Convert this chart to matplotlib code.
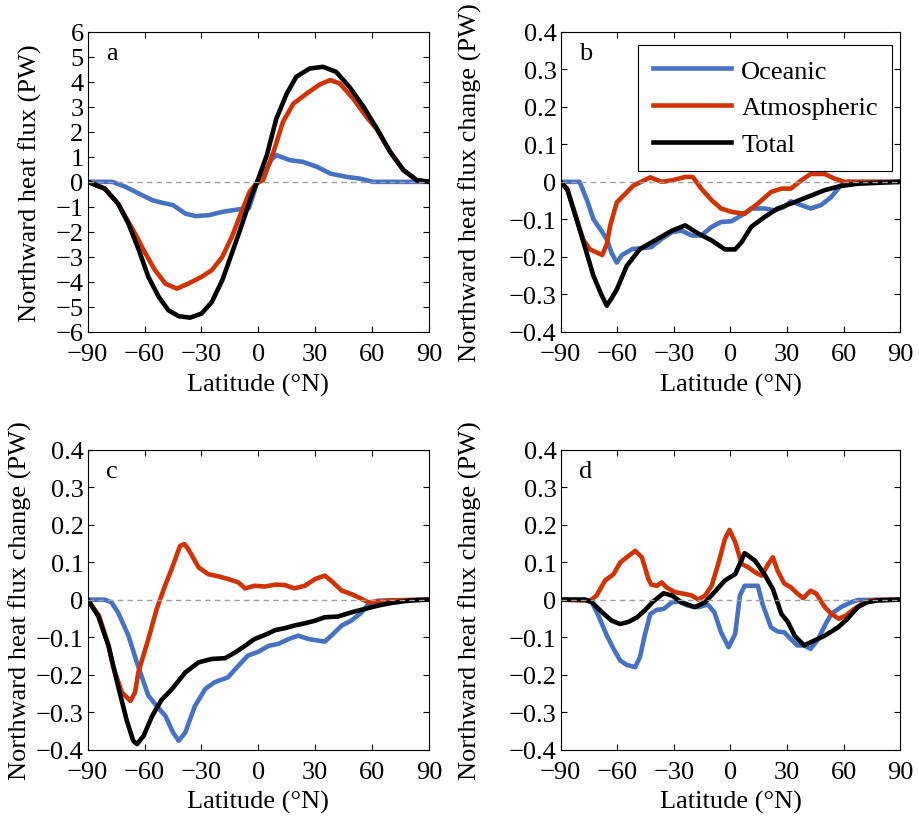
"""Meridional heat transport (panel a) and its changes (panels b-d), MATLAB-style 2x2 figure."""
import matplotlib
matplotlib.use("Agg")
import matplotlib.pyplot as plt

plt.rcParams.update({
    "font.family": "serif",
    "font.serif": ["Liberation Serif", "DejaVu Serif"],
    "font.size": 19,
    "axes.linewidth": 0.8,
    "xtick.direction": "in", "ytick.direction": "in",
    "xtick.top": True, "ytick.right": True,
    "xtick.major.size": 4, "ytick.major.size": 4,
    "xtick.major.width": 0.8, "ytick.major.width": 0.8,
})

C_OCN = "#4672c4"
C_ATM = "#d13300"
C_TOT = "#000000"

# ── panel a: mean transport (PW) ──────────────────────────────────────────────
a_tot_lat = [-90, -81, -74, -68.5, -63, -58, -52.5, -47.5, -42, -36, -30, -24.5, -19, -14, -8.5,
             -3.5, 0, 4.5, 9.5, 15, 20, 27, 34, 41, 48, 55.5, 62.5, 69.5, 76.5, 83.5, 90]
a_tot = [0, -0.27, -0.87, -1.67, -2.73, -3.8, -4.6, -5.13, -5.37, -5.43, -5.27, -4.8, -3.93, -2.87,
         -1.67, -0.53, 0.13, 1.07, 2.53, 3.53, 4.2, 4.53, 4.6, 4.4, 3.8, 3.0, 2.13, 1.2, 0.47,
         0.07, 0]
a_atm_lat = [-90, -81, -74, -70, -65, -60, -54.5, -49, -43, -37, -30, -24.5, -19, -14, -8.5,
             -4.5, -1, 2.5, 8, 13, 18.5, 25.5, 32.5, 38, 43, 50, 57, 62.5, 69.5, 76.5, 83.5, 90]
a_atm = [0, -0.27, -0.87, -1.4, -2.07, -2.8, -3.53, -4.07, -4.27, -4.07, -3.8, -3.53, -3.0, -2.2,
         -1.13, -0.38, -0.06, 0.07, 1.2, 2.4, 3.13, 3.53, 3.9, 4.07, 3.93, 3.33, 2.6, 2.1, 1.2,
         0.47, 0.07, 0]
a_ocn_lat = [-90, -77, -70, -63, -56, -51, -45, -38.5, -33, -26, -19, -10.5, -5, -3, -1, 2, 4.5,
             7, 9.5, 16.5, 23.5, 31, 38, 46.5, 53.5, 60.5, 90]
a_ocn = [0, 0, -0.2, -0.47, -0.73, -0.83, -0.93, -1.27, -1.37, -1.33, -1.2, -1.1, -1.05, -0.6,
         -0.1, 0.25, 0.55, 0.9, 1.07, 0.87, 0.8, 0.6, 0.33, 0.2, 0.13, 0, 0]

# ── panel b ───────────────────────────────────────────────────────────────────
b_tot_lat = [-90, -86.5, -83.3, -78, -72.7, -68.5, -65.6, -63, -60.3, -55, -48, -39, -31, -24,
             -17, -10, -3, 2.5, 6, 11, 18, 25, 32, 41, 50, 58.5, 67.5, 76, 90]
b_tot = [0, -0.02, -0.072, -0.16, -0.25, -0.3, -0.33, -0.31, -0.287, -0.224, -0.179, -0.153,
         -0.13, -0.116, -0.138, -0.156, -0.18, -0.18, -0.16, -0.12, -0.094, -0.071, -0.058,
         -0.04, -0.022, -0.011, -0.005, -0.003, 0]
b_atm_lat = [-90, -86.5, -83.3, -78, -74.5, -68, -65.6, -63.8, -60.3, -56.8, -51.5, -42.5, -36.5,
             -31, -24, -20, -15.5, -10, -5, 0.5, 7.5, 14.5, 21.5, 27, 32, 37.5, 42.5, 50, 55,
             60.5, 90]
b_atm = [0, -0.02, -0.072, -0.155, -0.18, -0.195, -0.166, -0.117, -0.055, -0.037, -0.01, 0.012,
         0, 0.004, 0.013, 0.013, -0.018, -0.049, -0.071, -0.08, -0.085, -0.058, -0.027, -0.018,
         -0.018, 0.004, 0.021, 0.021, 0.009, 0, 0]
b_ocn_lat = [-90, -80, -76, -72.7, -68.5, -65.6, -63, -60.3, -57.5, -52, -47, -42, -36.5, -31,
             -26, -20.5, -15.5, -10, -5, 0.5, 6, 11, 18, 23.5, 28.5, 32, 37.5, 42.5, 48, 53.5,
             58.5, 62, 90]
b_ocn = [0, 0, -0.05, -0.099, -0.13, -0.153, -0.19, -0.215, -0.195, -0.179, -0.177, -0.174,
         -0.152, -0.134, -0.13, -0.143, -0.143, -0.12, -0.107, -0.105, -0.089, -0.071, -0.071,
         -0.076, -0.067, -0.052, -0.062, -0.071, -0.062, -0.04, -0.009, 0, 0]

# ── panel c ───────────────────────────────────────────────────────────────────
c_tot_lat = [-90, -84.5, -79, -74, -69.5, -66, -64, -60.5, -56, -51, -45.5, -38.5, -31.5, -24.5,
             -17.5, -12, -7, -2, 3.5, 9, 14, 19, 24.5, 30, 35, 42, 49, 56, 63, 70, 77, 84, 90]
c_tot = [0, -0.043, -0.123, -0.23, -0.32, -0.376, -0.385, -0.363, -0.31, -0.267, -0.238, -0.194,
         -0.167, -0.158, -0.156, -0.14, -0.123, -0.105, -0.094, -0.081, -0.076, -0.069, -0.063,
         -0.056, -0.047, -0.045, -0.034, -0.025, -0.016, -0.009, -0.004, -0.001, 0]
c_atm_lat = [-90, -84, -79, -76.5, -72, -67.5, -65, -63.3, -58, -53.6, -49.2, -45.7, -41.3, -39,
             -37, -31.5, -26.5, -21, -16, -10.5, -7, -2, 3.5, 9, 14, 19, 24.5, 30, 35, 38.5, 44,
             49, 54.5, 58, 63, 70, 90]
c_atm = [0, -0.043, -0.123, -0.18, -0.247, -0.27, -0.247, -0.194, -0.105, -0.025, 0.037, 0.082,
         0.143, 0.148, 0.135, 0.086, 0.068, 0.062, 0.055, 0.046, 0.03, 0.037, 0.035, 0.04, 0.039,
         0.03, 0.037, 0.055, 0.064, 0.05, 0.024, 0.015, 0.002, -0.007, -0.005, -0.002, 0]
c_ocn_lat = [-90, -81, -77.5, -74, -68.5, -63.5, -58, -53.5, -49, -45, -42, -38.5, -33.5, -28,
             -23, -16, -10.5, -5.5, 0, 5.5, 10.5, 16, 21, 26.5, 31.5, 35, 38.5, 44, 49, 54.5, 58,
             63, 90]
c_ocn = [0, 0, -0.007, -0.034, -0.096, -0.176, -0.256, -0.284, -0.31, -0.354, -0.376, -0.354,
         -0.284, -0.238, -0.22, -0.207, -0.176, -0.149, -0.139, -0.123, -0.118, -0.105, -0.096,
         -0.105, -0.109, -0.112, -0.096, -0.069, -0.056, -0.034, -0.012, -0.003, 0]

# ── panel d ───────────────────────────────────────────────────────────────────
d_tot_lat = [-90, -77, -73.5, -68, -63, -58.5, -54, -49.5, -45.5, -41, -35.5, -31, -26, -19,
             -13.5, -8.5, -3, 2.5, 7.5, 13, 18, 22.5, 27, 30.5, 34, 39, 44.5, 50, 57, 62, 67.5,
             72.5, 78, 90]
d_tot = [0, 0, -0.007, -0.034, -0.056, -0.065, -0.059, -0.047, -0.029, -0.005, 0.017, 0.011,
         -0.007, -0.02, -0.007, 0.02, 0.051, 0.068, 0.124, 0.104, 0.068, 0.028, -0.038, -0.06,
         -0.096, -0.122, -0.109, -0.096, -0.074, -0.051, -0.02, -0.007, -0.002, 0]
d_atm_lat = [-90, -74.5, -71, -66.5, -62, -58.5, -55, -50.5, -47, -43.5, -42, -39, -36.5, -34,
             -29.5, -24, -20.5, -17, -13.5, -10, -6.5, -3, -0.5, 2.5, 6, 9.5, 13, 16.5, 20, 22.5,
             25, 28.5, 32, 35.5, 38.5, 42.5, 45.5, 50, 53.5, 57.5, 61, 65.5, 71, 76, 90]
d_atm = [0, -0.003, 0.011, 0.051, 0.068, 0.099, 0.113, 0.13, 0.113, 0.055, 0.04, 0.037, 0.046,
         0.033, 0.02, 0.015, 0.011, 0, 0.011, 0.037, 0.095, 0.161, 0.186, 0.153, 0.095, 0.086,
         0.073, 0.064, 0.095, 0.113, 0.077, 0.043, 0.033, 0.016, 0.004, 0.024, 0.016, -0.02,
         -0.038, -0.051, -0.043, -0.025, -0.007, -0.001, 0]
d_ocn_lat = [-90, -77, -73.5, -70, -65.5, -62, -58.5, -55, -50.5, -48, -45.5, -42.5, -39, -35.5,
             -31, -27.5, -22.5, -17, -12, -8.5, -5, -1, 2.5, 5, 7.5, 14.5, 17, 21.5, 25, 28.5, 32,
             35.5, 39, 42.5, 46.5, 50, 53.5, 58.5, 64, 67.5, 90]
d_ocn = [0, 0, -0.007, -0.043, -0.096, -0.131, -0.162, -0.174, -0.18, -0.153, -0.096, -0.038,
         -0.027, -0.025, -0.007, -0.005, -0.016, -0.02, -0.013, -0.034, -0.087, -0.127, -0.091,
         0.011, 0.037, 0.037, -0.012, -0.074, -0.085, -0.087, -0.105, -0.122, -0.122, -0.131,
         -0.105, -0.069, -0.038, -0.02, -0.007, -0.001, 0]

x_ticks = [-90, -60, -30, 0, 30, 60, 90]
x_ticklabels = ["\u221290", "\u221260", "\u221230", "0", "30", "60", "90"]
a_yticks = [-6, -5, -4, -3, -2, -1, 0, 1, 2, 3, 4, 5, 6]
a_yticklabels = ["\u22126", "\u22125", "\u22124", "\u22123", "\u22122", "\u22121", "0",
                 "1", "2", "3", "4", "5", "6"]
chg_yticks = [-0.4, -0.3, -0.2, -0.1, 0, 0.1, 0.2, 0.3, 0.4]
chg_yticklabels = ["\u22120.4", "\u22120.3", "\u22120.2", "\u22120.1", "0",
                   "0.1", "0.2", "0.3", "0.4"]

panels = [
    ("a", (a_ocn_lat, a_ocn), (a_atm_lat, a_atm), (a_tot_lat, a_tot)),
    ("b", (b_ocn_lat, b_ocn), (b_atm_lat, b_atm), (b_tot_lat, b_tot)),
    ("c", (c_ocn_lat, c_ocn), (c_atm_lat, c_atm), (c_tot_lat, c_tot)),
    ("d", (d_ocn_lat, d_ocn), (d_atm_lat, d_atm), (d_tot_lat, d_tot)),
]

fig = plt.figure(figsize=(9.2, 8.2), dpi=100)
# axes rectangles in figure fraction (left, bottom, width, height)
rects = {
    "a": (0.0953, 0.594, 0.371, 0.366),
    "b": (0.6095, 0.594, 0.369, 0.366),
    "c": (0.0953, 0.0845, 0.371, 0.366),
    "d": (0.6095, 0.0845, 0.369, 0.366),
}
ylabel_x = {"a": -0.135, "b": -0.232, "c": -0.164, "d": -0.232}

for letter, ocn, atm, tot in panels:
    ax = fig.add_axes(rects[letter])
    ax.plot(*ocn, color=C_OCN, lw=3.3, label="Oceanic", solid_joinstyle="round")
    ax.plot(*atm, color=C_ATM, lw=3.3, label="Atmospheric", solid_joinstyle="round")
    ax.plot(*tot, color=C_TOT, lw=3.3, label="Total", solid_joinstyle="round")
    ax.axhline(0, color="#a0a0a0", lw=1.0, ls=(0, (4, 3)), zorder=5)

    ax.set_xlim(-90, 90)
    ax.set_xticks(x_ticks)
    ax.set_xticklabels(x_ticklabels)
    if letter == "a":
        ax.set_ylim(-6, 6)
        ax.set_yticks(a_yticks)
        ax.set_yticklabels(a_yticklabels)
        ax.set_ylabel("Northward heat flux (PW)")
    else:
        ax.set_ylim(-0.4, 0.4)
        ax.set_yticks(chg_yticks)
        ax.set_yticklabels(chg_yticklabels)
        ax.set_ylabel("Northward heat flux change (PW)")
    ax.set_xlabel("Latitude (\u00b0N)")
    ax.tick_params(axis="x", pad=8)
    ax.tick_params(axis="y", pad=3)
    ax.yaxis.set_label_coords(ylabel_x[letter], 0.5)
    ax.xaxis.set_label_coords(0.5, -0.135)

    ax.text(0.055, 0.93, letter, transform=ax.transAxes, ha="left", va="center")

    if letter == "b":
        leg = ax.legend(loc="upper right", bbox_to_anchor=(0.977, 0.957), borderaxespad=0,
                        fancybox=False, edgecolor="black", framealpha=1, handlelength=2.95,
                        labelspacing=0.5, borderpad=0.55, handletextpad=0.4)
        leg.get_frame().set_linewidth(0.8)

fig.savefig("out.png", dpi=100)
